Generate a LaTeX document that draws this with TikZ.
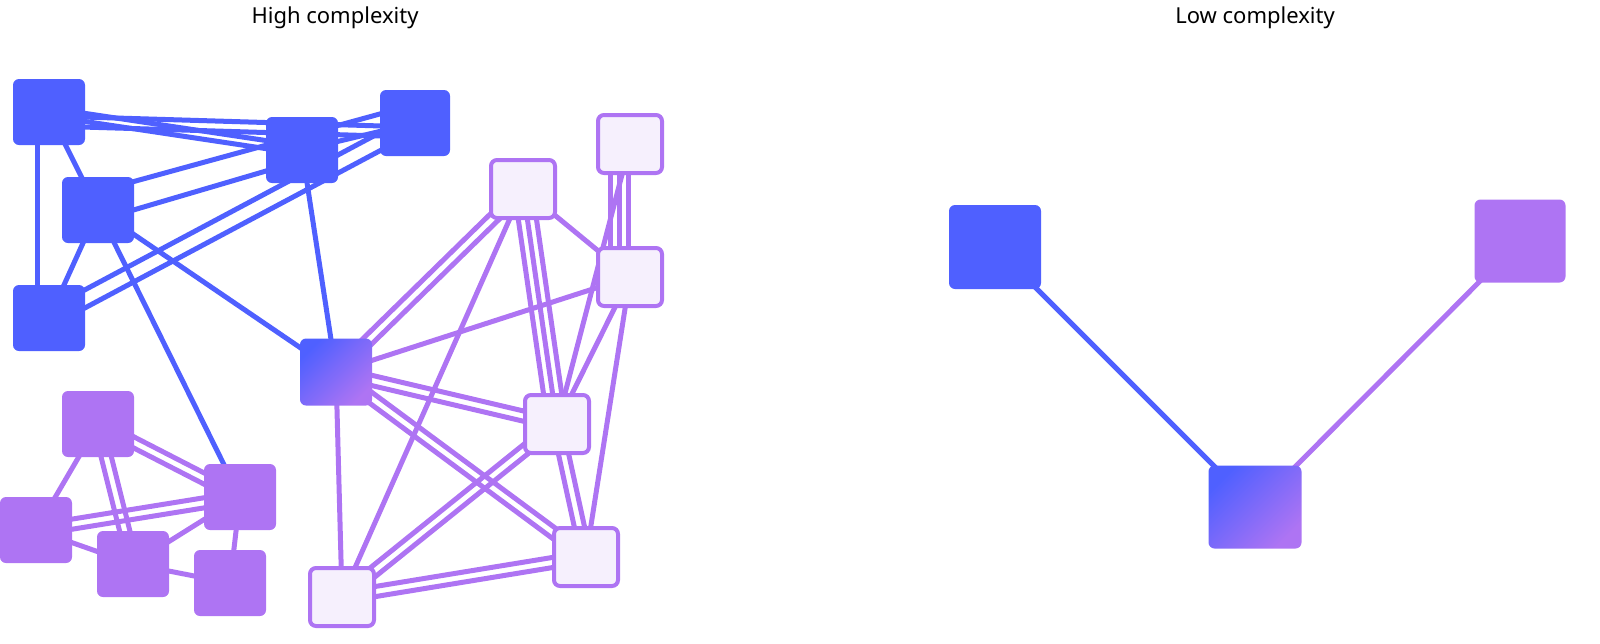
\documentclass[tikz,border=0pt]{standalone}
\usepackage{fontspec}
\setmainfont{Noto Sans}
\usetikzlibrary{calc,backgrounds}
\definecolor{bl}{HTML}{4F60FF}
\definecolor{pu}{HTML}{AE74F3}
\definecolor{lp}{HTML}{F6F0FD}
\newcommand\edg[4]{\foreach \o in {#4}{\draw[#1] ($(#2)!\o pt!90:(#3)$) -- ($(#3)!\o pt!-90:(#2)$);}}
\tikzset{
  bnode/.style={fill=bl, rounded corners=6pt, minimum width=#1, minimum height=66pt, inner sep=0pt},
  bnode/.default=72pt,
  pnode/.style={fill=pu, rounded corners=6pt, minimum width=72pt, minimum height=66pt, inner sep=0pt},
  lnode/.style={draw=pu, line width=4pt, fill=lp, rounded corners=6pt, minimum width=64pt, minimum height=58pt, inner sep=0pt},
  be/.style={draw=bl, line width=5pt},
  pe/.style={draw=pu, line width=5pt},
  ttl/.style={font=\fontsize{22}{26}\selectfont}
}
\begin{document}
\begin{tikzpicture}[x=1pt,y=-1pt]
\node[ttl] (t1) at (335,18) {High complexity};
\node[ttl] (t2) at (1255,18) {Low complexity};
% blue
\node[bnode] (A) at (49,112) {};
\node[bnode=70pt] (B) at (415,123) {};
\node[bnode] (C) at (302,150) {};
\node[bnode] (D) at (98,210) {};
\node[bnode] (E) at (49,318) {};
\node[rounded corners=6pt, minimum width=72pt, minimum height=67pt, inner sep=0pt, shading=axis, left color=bl, right color=pu, shading angle=45] (G) at (336,372) {};
% light
\node[lnode] (P1) at (630,144) {};
\node[lnode] (P2) at (523,189) {};
\node[lnode] (P3) at (630,277) {};
\node[lnode] (P4) at (557,424) {};
\node[lnode] (P5) at (586,557) {};
\node[lnode] (P6) at (342,597) {};
% purple
\node[pnode] (Q1) at (98,424) {};
\node[pnode] (Q2) at (36,530) {};
\node[pnode] (Q3) at (133,564) {};
\node[pnode] (Q4) at (240,497) {};
\node[pnode] (Q5) at (230,583) {};
% right
\node[bnode=92pt, minimum height=84pt] (R1) at (995,247) {};
\node[pnode, minimum width=91pt, minimum height=83pt] (R2) at (1520,241) {};
\node[rounded corners=6pt, minimum width=93pt, minimum height=83pt, inner sep=0pt, shading=axis, left color=bl, right color=pu, shading angle=45] (R3) at (1255,507) {};
\begin{scope}[on background layer]
\edg{be}{A}{B}{-14,-4}
\edg{be}{A}{C}{-4,4}
\edg{be}{A}{D}{0}
\edg{be}{A}{E}{-12}
\edg{be}{D}{C}{-10}
\edg{be}{D}{B}{18}
\edg{be}{C}{B}{0}
\edg{be}{E}{B}{-8,8}
\edg{be}{D}{E}{0}
\edg{be}{D}{G}{0}
\edg{be}{D}{Q4}{0}
\edg{be}{C}{G}{0}
\edg{pe}{G}{P2}{-5,5}
\edg{pe}{G}{P3}{0}
\edg{pe}{G}{P4}{-5,5}
\edg{pe}{G}{P5}{-5,5}
\edg{pe}{G}{P6}{0}
\edg{pe}{P2}{P6}{0}
\edg{pe}{P2}{P4}{-9,0,9}
\edg{pe}{P2}{P3}{0}
\edg{pe}{P1}{P4}{0}
\edg{pe}{P1}{P3}{-20,-11,-2}
\edg{pe}{P3}{P4}{0}
\edg{pe}{P3}{P5}{0}
\edg{pe}{P4}{P6}{-5,5}
\edg{pe}{P4}{P5}{-5,5}
\edg{pe}{P5}{P6}{-5,5}
\edg{pe}{Q1}{Q4}{-5,5}
\edg{pe}{Q1}{Q2}{0}
\edg{pe}{Q1}{Q3}{-5,5}
\edg{pe}{Q2}{Q4}{-5,5}
\edg{pe}{Q2}{Q3}{0}
\edg{pe}{Q3}{Q4}{0}
\edg{pe}{Q4}{Q5}{0}
\edg{pe}{Q3}{Q5}{0}
\edg{be}{R1}{R3}{0}
\edg{pe}{R2}{R3}{0}
\end{scope}
\pgfresetboundingbox
\useasboundingbox (0,0) rectangle (1600,643);
\end{tikzpicture}
\end{document}
